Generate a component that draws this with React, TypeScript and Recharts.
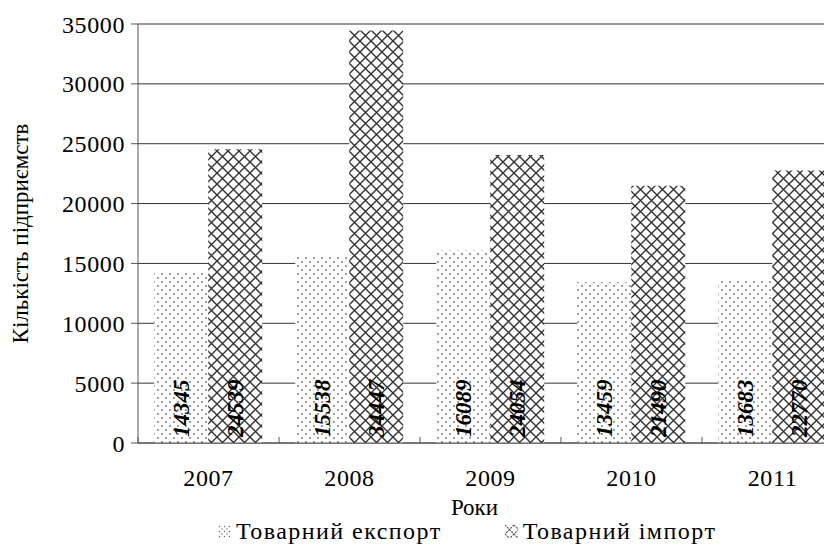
import { BarChart, Bar, XAxis, YAxis, CartesianGrid, Legend, LabelList, Label } from 'recharts'

const years = ['2007', '2008', '2009', '2010', '2011']
const exportCounts = [14345, 15538, 16089, 13459, 13683]
const importCounts = [24539, 34447, 24054, 21490, 22770]
const yTicks = [0, 5000, 10000, 15000, 20000, 25000, 30000, 35000]

const data = years.map((year, i) => ({ year, exp: exportCounts[i], imp: importCounts[i] }))

const FONT = '"Liberation Serif", "Times New Roman", serif'
const CHART_W = 850
const CHART_H = 537
const MARGIN = { top: 16, right: 15, bottom: 0, left: 0 }
const Y_AXIS_W = 130
const HALF_BAND = (CHART_W - MARGIN.right - MARGIN.left - Y_AXIS_W) / years.length / 2
const AXIS_COLOR = '#555'

function YearTick(props: any) {
  const { x, y, payload } = props
  const axisY = y - 8
  return (
    <g>
      <line x1={x - HALF_BAND} x2={x - HALF_BAND} y1={axisY} y2={axisY - 6} stroke={AXIS_COLOR} />
      <text x={x} y={y + 35} textAnchor="middle" fontFamily={FONT} fontSize={24} letterSpacing={0.6} fill="#000">
        {payload.value}
      </text>
    </g>
  )
}

function ValueLabel(props: any) {
  const { x, y, width, height, value } = props
  const cx = x + width / 2
  const bottom = y + height - 6
  const fs = 23
  return (
    <text
      transform={`translate(${cx + fs * 0.33}, ${bottom}) rotate(-90)`}
      fontFamily={FONT}
      fontSize={fs}
      fontWeight="bold"
      fontStyle="italic"
      fill="#000"
    >
      {value}
    </text>
  )
}

function LegendIcon({ kind }: { kind: 'dots' | 'cross' }) {
  return (
    <svg width={13} height={13} style={{ marginRight: 5 }}>
      <defs>
        <pattern id={`lg-${kind}`} width={kind === 'dots' ? 5 : 9} height={kind === 'dots' ? 5 : 9} patternUnits="userSpaceOnUse">
          {kind === 'dots' ? (
            <>
              <circle cx={1.5} cy={1.5} r={0.7} fill="#666" />
              <circle cx={4} cy={4} r={0.7} fill="#666" />
            </>
          ) : (
            <path d="M0,0 L9,9 M9,0 L0,9" stroke="#555" strokeWidth={1.2} strokeDasharray="2 1" />
          )}
        </pattern>
      </defs>
      <rect x={0} y={0} width={13} height={13} fill={`url(#lg-${kind})`} />
    </svg>
  )
}

function ChartLegend() {
  const item = { display: 'flex', alignItems: 'center', fontFamily: FONT, fontSize: 24, letterSpacing: 1.45, color: '#000' }
  return (
    <div style={{ display: 'flex', alignItems: 'center', whiteSpace: 'nowrap' as const }}>
      <div style={{ ...item, marginRight: 63 }}>
        <LegendIcon kind="dots" />
        Товарний експорт
      </div>
      <div style={item}>
        <LegendIcon kind="cross" />
        Товарний імпорт
      </div>
    </div>
  )
}

export default function App() {
  return (
    <div style={{ width: 824, height: CHART_H, overflow: 'hidden', position: 'relative' }}>
      <BarChart width={CHART_W} height={CHART_H} data={data} margin={MARGIN} barGap={0} barCategoryGap="11.5%">
        <defs>
          <pattern id="dots" width={8} height={8} patternUnits="userSpaceOnUse">
            <rect width={8} height={8} fill="#fff" />
            <circle cx={2} cy={2} r={0.8} fill="#222" />
            <circle cx={6} cy={6} r={0.8} fill="#222" />
          </pattern>
          <pattern id="cross" width={11} height={11} patternUnits="userSpaceOnUse">
            <rect width={11} height={11} fill="#fff" />
            <path d="M0,0 L11,11 M11,0 L0,11" stroke="#333" strokeWidth={1.4} />
          </pattern>
        </defs>
        <CartesianGrid vertical={false} stroke="#333" />
        <XAxis
          dataKey="year"
          height={CHART_H - MARGIN.top - 419}
          axisLine={{ stroke: AXIS_COLOR }}
          tickLine={false}
          tick={<YearTick />}
          interval={0}
        >
          <Label value="Роки" position="center" dx={-16} dy={13} fontFamily={FONT} fontSize={23} fill="#000" />
        </XAxis>
        <YAxis
          width={Y_AXIS_W}
          domain={[0, 35000]}
          ticks={yTicks}
          interval={0}
          axisLine={{ stroke: AXIS_COLOR }}
          tickLine={{ stroke: AXIS_COLOR }}
          tickSize={7}
          tickMargin={6}
          tick={{ fontFamily: FONT, fontSize: 24, fill: '#000', letterSpacing: 0.6 }}
        >
          <Label value="Кількість підприємств" angle={-90} position="center" dx={-53} fontFamily={FONT} fontSize={23} fill="#000" />
        </YAxis>
        <Legend
          layout="horizontal"
          verticalAlign="middle"
          align="center"
          content={<ChartLegend />}
          wrapperStyle={{ top: 510, left: 210, width: 'auto' }}
        />
        <Bar dataKey="exp" name="Товарний експорт" fill="url(#dots)" isAnimationActive={false}>
          <LabelList dataKey="exp" content={<ValueLabel />} />
        </Bar>
        <Bar dataKey="imp" name="Товарний імпорт" fill="url(#cross)" isAnimationActive={false}>
          <LabelList dataKey="imp" content={<ValueLabel />} />
        </Bar>
      </BarChart>
    </div>
  )
}
